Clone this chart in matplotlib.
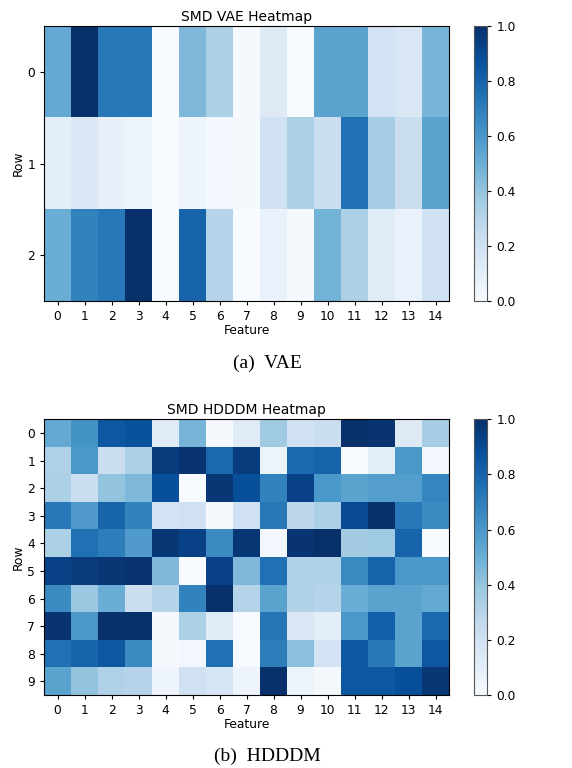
import matplotlib.pyplot as plt
import numpy as np

features = list(range(15))

vae_rows = [0, 1, 2]
vae_vals = [
    [0.52, 1.00, 0.72, 0.72, 0.00, 0.45, 0.33, 0.01, 0.13, 0.00, 0.55, 0.55, 0.18, 0.15, 0.47],
    [0.10, 0.14, 0.08, 0.06, 0.00, 0.05, 0.03, 0.01, 0.20, 0.33, 0.22, 0.75, 0.35, 0.22, 0.55],
    [0.50, 0.68, 0.72, 1.00, 0.00, 0.80, 0.30, 0.00, 0.07, 0.01, 0.48, 0.33, 0.12, 0.07, 0.20],
]

hdddm_rows = list(range(10))
hdddm_vals = [
    [0.52, 0.62, 0.85, 0.87, 0.12, 0.47, 0.01, 0.12, 0.37, 0.20, 0.22, 1.00, 0.98, 0.13, 0.35],
    [0.32, 0.60, 0.22, 0.33, 0.95, 0.98, 0.78, 0.95, 0.06, 0.78, 0.80, 0.00, 0.10, 0.60, 0.03],
    [0.33, 0.22, 0.40, 0.45, 0.88, 0.00, 0.97, 0.88, 0.68, 0.93, 0.60, 0.55, 0.57, 0.57, 0.67],
    [0.72, 0.58, 0.80, 0.68, 0.18, 0.20, 0.01, 0.20, 0.72, 0.28, 0.33, 0.90, 1.00, 0.72, 0.65],
    [0.33, 0.75, 0.70, 0.58, 0.97, 0.93, 0.65, 0.97, 0.03, 0.98, 1.00, 0.36, 0.37, 0.80, 0.00],
    [0.93, 0.95, 0.97, 0.98, 0.45, 0.00, 0.93, 0.45, 0.75, 0.32, 0.32, 0.65, 0.80, 0.60, 0.60],
    [0.65, 0.38, 0.50, 0.22, 0.30, 0.68, 1.00, 0.30, 0.55, 0.32, 0.30, 0.50, 0.55, 0.55, 0.52],
    [0.98, 0.60, 1.00, 1.00, 0.01, 0.33, 0.12, 0.00, 0.73, 0.15, 0.10, 0.60, 0.82, 0.55, 0.78],
    [0.75, 0.80, 0.85, 0.65, 0.01, 0.03, 0.75, 0.00, 0.70, 0.42, 0.18, 0.85, 0.72, 0.55, 0.85],
    [0.55, 0.40, 0.32, 0.30, 0.05, 0.20, 0.16, 0.05, 1.00, 0.06, 0.02, 0.85, 0.85, 0.88, 0.97],
]

fig = plt.figure(figsize=(5.72, 7.68), dpi=100)

def heatmap(rect, cbar_rect, vals, rows, title):
    ax = fig.add_axes(rect)
    im = ax.imshow(np.array(vals), cmap='Blues', vmin=0, vmax=1, aspect='auto')
    ax.set_xticks(features)
    ax.set_yticks(rows)
    ax.tick_params(labelsize=8.8, length=3)
    ax.set_title(title, fontsize=10, pad=4)
    ax.set_xlabel('Feature', fontsize=8.8, labelpad=1)
    ax.set_ylabel('Row', fontsize=8.8, labelpad=2)
    cax = fig.add_axes(cbar_rect)
    cb = fig.colorbar(im, cax=cax)
    cb.ax.tick_params(labelsize=8.8, length=3)
    cb.outline.set_edgecolor('#555555')
    return ax

heatmap([0.077, 0.608, 0.708, 0.358], [0.829, 0.608, 0.0227, 0.358],
        vae_vals, vae_rows, 'SMD VAE Heatmap')
heatmap([0.077, 0.095, 0.708, 0.359], [0.829, 0.095, 0.0227, 0.359],
        hdddm_vals, hdddm_rows, 'SMD HDDDM Heatmap')

fig.text(0.467, 1 - 363 / 768, '(a)  VAE', family='Liberation Serif',
         fontsize=14, ha='center', va='center')
fig.text(0.467, 1 - 756 / 768, '(b)  HDDDM', family='Liberation Serif',
         fontsize=14, ha='center', va='center')

fig.savefig('out.png', dpi=100)
